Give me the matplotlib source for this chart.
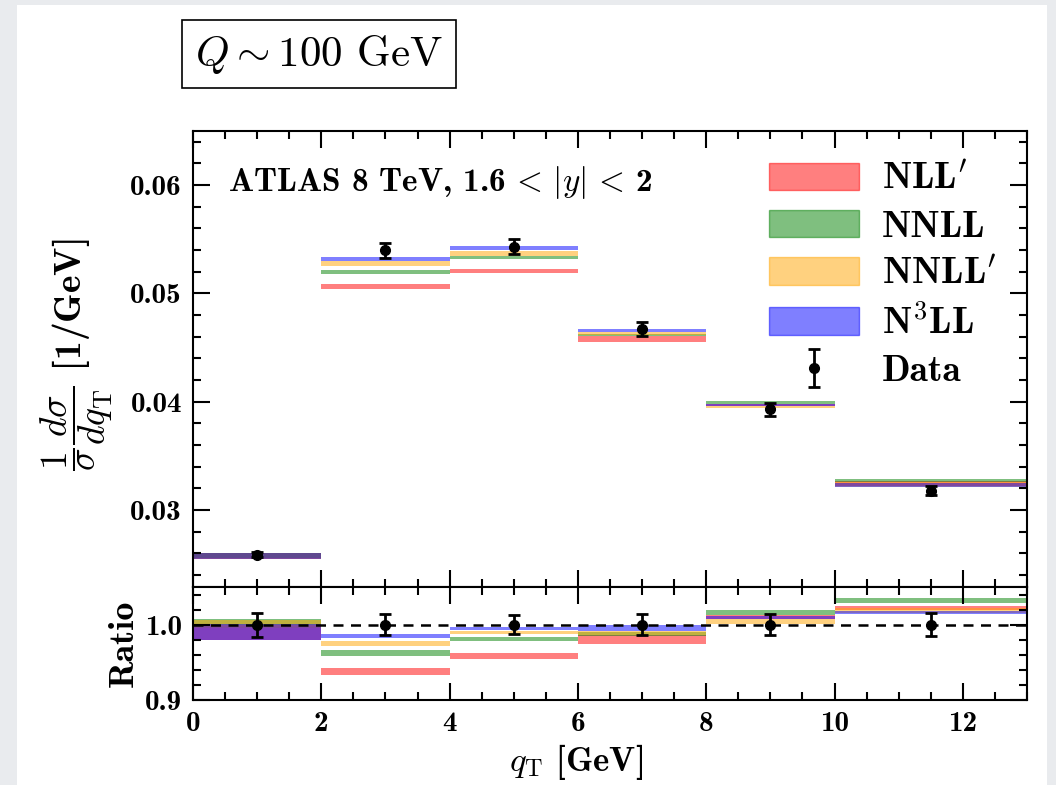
import matplotlib
matplotlib.use("Agg")
import matplotlib.pyplot as plt
from matplotlib.patches import Patch, Rectangle
from matplotlib.ticker import MultipleLocator

plt.rcParams['font.family'] = 'cmb10'
plt.rcParams['mathtext.fontset'] = 'cm'
plt.rcParams['axes.unicode_minus'] = False
plt.rcParams['axes.linewidth'] = 1.5

# bin edges in qT
edges = [0, 2, 4, 6, 8, 10, 13]
data_x = [1, 3, 5, 7, 9, 11.5]
data_y = [0.0259, 0.0540, 0.0543, 0.0467, 0.0393, 0.0318]
data_err = [0.0002, 0.0007, 0.0007, 0.00065, 0.0006, 0.0004]

# main panel bands (lower, upper)
nllp_lo = [0.02545, 0.0504, 0.0519, 0.0455, 0.0396, 0.0322]
nllp_hi = [0.0260, 0.0509, 0.0523, 0.0461, 0.0398, 0.0327]
nnll_lo = [0.02555, 0.0518, 0.0532, 0.0461, 0.0398, 0.0326]
nnll_hi = [0.02605, 0.0522, 0.0535, 0.0463, 0.0401, 0.0329]
nnllp_lo = [0.0255, 0.0525, 0.0535, 0.0462, 0.0394, 0.0321]
nnllp_hi = [0.0260, 0.0530, 0.0539, 0.0464, 0.0396, 0.0326]
n3ll_lo = [0.02545, 0.0530, 0.0540, 0.0464, 0.0396, 0.0321]
n3ll_hi = [0.0260, 0.0534, 0.0544, 0.0467, 0.0398, 0.0325]

# ratio panel bands (lower, upper)
r_nllp_lo = [0.979, 0.933, 0.955, 0.974, 1.007, 1.020]
r_nllp_hi = [1.000, 0.942, 0.962, 0.986, 1.013, 1.025]
r_nnll_lo = [0.999, 0.958, 0.978, 0.985, 1.013, 1.029]
r_nnll_hi = [1.008, 0.966, 0.983, 0.990, 1.020, 1.036]
r_nnllp_lo = [0.996, 0.972, 0.987, 0.986, 1.001, 1.016]
r_nnllp_hi = [1.006, 0.978, 0.992, 0.992, 1.007, 1.022]
r_n3ll_lo = [0.979, 0.982, 0.993, 0.992, 1.007, 1.014]
r_n3ll_hi = [1.001, 0.988, 0.997, 0.999, 1.012, 1.018]
r_data = [1.0, 1.0, 1.0, 1.0, 1.0, 1.0]
r_err = [0.016, 0.014, 0.013, 0.014, 0.014, 0.015]

labels = [r"NLL$^{\prime}$", "NNLL", r"NNLL$^{\prime}$", r"N$^{\mathbf{3}}$LL"]
colors = ["red", "green", "orange", "blue"]
alpha = 0.5

fig = plt.figure(figsize=(10.56, 7.85), dpi=100)
fig.patch.set_facecolor("#e9ebee")
fig.patches.append(Rectangle((17 / 1056, 0), 1030 / 1056, 1 - 5 / 785,
                             transform=fig.transFigure, facecolor="white",
                             edgecolor="none", zorder=-10))

left, right = 193 / 1056, 1027 / 1056
ax = fig.add_axes([left, 1 - 587 / 785, right - left, (587 - 131) / 785])
axr = fig.add_axes([left, 1 - 700 / 785, right - left, (700 - 587) / 785], sharex=ax)

lefts = edges[:-1]
widths = [edges[i + 1] - edges[i] for i in range(len(lefts))]

main_bands = [(nllp_lo, nllp_hi), (nnll_lo, nnll_hi), (nnllp_lo, nnllp_hi), (n3ll_lo, n3ll_hi)]
ratio_bands = [(r_nllp_lo, r_nllp_hi), (r_nnll_lo, r_nnll_hi), (r_nnllp_lo, r_nnllp_hi), (r_n3ll_lo, r_n3ll_hi)]

for (lo, hi), c in zip(main_bands, colors):
    ax.bar(lefts, [h - l for l, h in zip(lo, hi)], bottom=lo, width=widths,
           align="edge", color=c, alpha=alpha, linewidth=0)
for (lo, hi), c in zip(ratio_bands, colors):
    axr.bar(lefts, [h - l for l, h in zip(lo, hi)], bottom=lo, width=widths,
            align="edge", color=c, alpha=alpha, linewidth=0)

eb = ax.errorbar(data_x, data_y, yerr=data_err, fmt="o", color="black", ms=7,
                 elinewidth=2, capsize=4, capthick=2, zorder=5)
axr.errorbar(data_x, r_data, yerr=r_err, fmt="o", color="black", ms=7,
             elinewidth=2, capsize=4, capthick=2, zorder=5)
axr.axhline(1.0, color="black", ls="--", lw=1.8, dashes=(4, 3), zorder=4)

ax.set_xlim(0, 13)
ax.set_ylim(0.0229, 0.065)
axr.set_ylim(0.9, 1.05)

ax.yaxis.set_major_locator(MultipleLocator(0.01))
ax.yaxis.set_minor_locator(MultipleLocator(0.002))
axr.yaxis.set_major_locator(MultipleLocator(0.1))
axr.yaxis.set_minor_locator(MultipleLocator(0.02))
axr.xaxis.set_major_locator(MultipleLocator(2))
axr.xaxis.set_minor_locator(MultipleLocator(0.5))

for a in (ax, axr):
    a.tick_params(which="both", direction="in", top=True, right=True, width=1.5)
    a.tick_params(which="major", length=12, labelsize=21, pad=8)
    a.tick_params(which="minor", length=6)
ax.tick_params(labelbottom=False)

ax.set_ylabel(r"$\dfrac{1}{\sigma}\dfrac{d\sigma}{dq_{\rm T}}$ [1/GeV]", fontsize=27)
axr.set_ylabel("Ratio", fontsize=26)
axr.set_xlabel(r"$q_{\rm T}$ [GeV]", fontsize=25)
ax.yaxis.set_label_coords(-0.093, 0.51)
axr.yaxis.set_label_coords(-0.064, 0.5)
axr.xaxis.set_label_coords(0.459, -0.37)

ax.text(0.042, 0.886, r"ATLAS 8 TeV, 1.6$\,<\,|y|\,<\,$2", transform=ax.transAxes,
        fontsize=24, va="center", ha="left")

handles = [Patch(facecolor=c, edgecolor=c, alpha=alpha) for c in colors]
handles.append(eb)
leg_labels = labels + ["Data"]
leg = ax.legend(handles, leg_labels, loc="upper right", bbox_to_anchor=(0.99, 0.98),
                frameon=False, fontsize=27, handlelength=2.4, handleheight=0.75,
                labelspacing=0.36, borderaxespad=0.2, handletextpad=0.6)

fig.text(319 / 1056, 1 - 54 / 785, r"$Q \sim 100$ GeV", fontsize=31, family="cmr10",
         ha="center", va="center",
         bbox=dict(boxstyle="square,pad=0.3", facecolor="white", edgecolor="black", lw=1.2))

fig.savefig("out.png", dpi=100, facecolor=fig.get_facecolor())
